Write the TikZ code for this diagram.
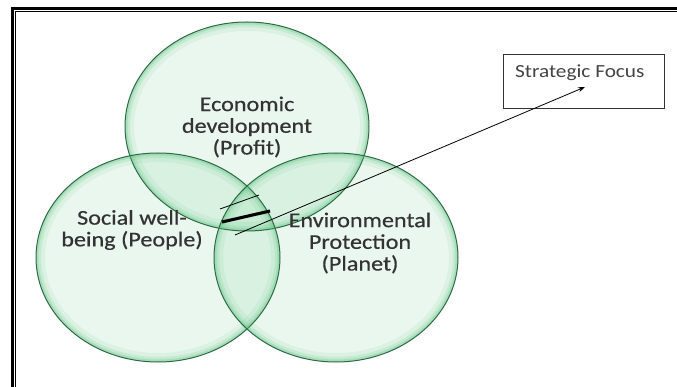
\documentclass[tikz,border=0pt]{standalone}
\usepackage{fontspec}
\setmainfont{Carlito}[FakeStretch=1.15]
\newfontfamily\ringfont{Carlito}[FakeStretch=1.15, FakeBold=0.5]
\usetikzlibrary{arrows.meta}

\definecolor{ringline}{HTML}{2D6B45}
\definecolor{ringfill}{HTML}{7FD39B}
\definecolor{ringglow}{HTML}{5CC281}
\definecolor{labeltext}{HTML}{333333}
\definecolor{focustext}{HTML}{444444}
\definecolor{boxline}{HTML}{333333}

\begin{document}
\begin{tikzpicture}[x=1pt,y=-1pt,
  ringshape/.style={x radius=122pt, y radius=104.5pt},
  ringfillstyle/.style={fill=ringfill, fill opacity=0.16},
  ringedge/.style={draw=ringline, line width=1pt},
  circtext/.style={align=center, font=\ringfont\fontsize{21}{21.7}\selectfont,
    text=labeltext, inner sep=0pt},
  thinline/.style={draw=black, line width=0.8pt},
  pointer/.style={thinline, -{Stealth[length=7pt, width=5pt]}}]

\useasboundingbox (0,0) rectangle (677,387);
\fill[white] (0,0) rectangle (677,387);

% double frame along the top and left edges
\draw[black, line width=3pt] (12,387) -- (12,8.5) -- (677,8.5);
\draw[black, line width=1.2pt] (15.8,387) -- (15.8,11.8) -- (677,11.8);

% the three overlapping rings
\coordinate (econ) at (247,126.5);
\coordinate (soc)  at (158,257.5);
\coordinate (env)  at (336,257.5);

\foreach \c in {econ,soc,env} {
  \fill[ringfillstyle] (\c) ellipse [ringshape];
}
\foreach \c in {econ,soc,env} {
  \begin{scope}
    \clip (\c) ellipse [ringshape];
    \draw[ringglow, line width=18pt, opacity=0.10] (\c) ellipse [ringshape];
    \draw[ringglow, line width=10pt, opacity=0.16] (\c) ellipse [ringshape];
    \draw[ringglow, line width=5pt, opacity=0.28] (\c) ellipse [ringshape];
  \end{scope}
  \draw[ringedge] (\c) ellipse [ringshape];
}

% ring labels
\node[circtext] (econtext) at (247,127) {Economic\\development\\(Profit)};
\node[circtext] (soctext)  at (132,230) {Social well-\\being (People)};
\node[circtext] (envtext)  at (360,243) {Environmental\\Protection\\(Planet)};

% strategic focus box
\node[draw=boxline, line width=1.2pt, minimum width=161pt, minimum height=54pt,
      inner sep=0pt, anchor=north west] (focusbox) at (503,54) {};
\node[anchor=base west, font=\fontsize{18.5}{20}\selectfont, text=focustext,
      inner sep=0pt] (focuslabel) at (515,78) {Strategic Focus};

% marks in the centre overlap
\coordinate (markA) at (220,209);
\coordinate (markB) at (259,195);
\draw[thinline] (markA) -- (markB);

\coordinate (barA) at (222,222);
\coordinate (barB) at (270,211);
\draw[black!55, line width=3pt, opacity=0.5, shift={(0,3)}] (barA) -- (barB);
\draw[black, line width=3pt] (barA) -- (barB);

\coordinate (ptrtail) at (235,235);
\coordinate (ptrtip)  at (585,87);
\draw[pointer] (ptrtail) -- (ptrtip);

\end{tikzpicture}
\end{document}
